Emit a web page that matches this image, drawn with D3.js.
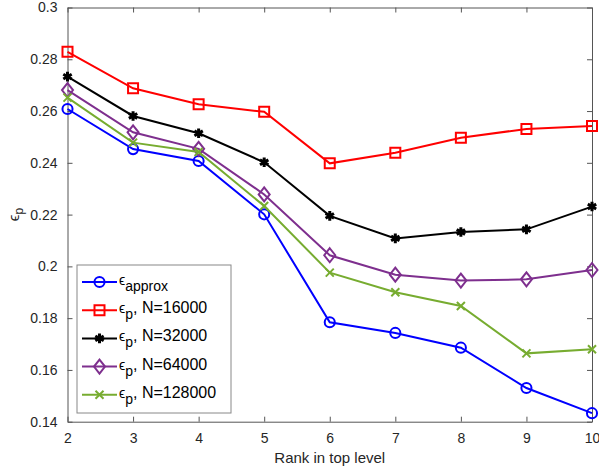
<!DOCTYPE html>
<html>
<head>
<meta charset="utf-8">
<script src="https://cdn.jsdelivr.net/npm/d3@7"></script>
<style>
  body { margin: 0; background: #fff; }
  text { font-family: "Liberation Sans", Arial, Helvetica, sans-serif; fill: #262626; }
</style>
</head>
<body>
<div id="chart"></div>
<script>
// data
const ranks = [2, 3, 4, 5, 6, 7, 8, 9, 10];
const epsApprox = [0.2608, 0.2453, 0.2407, 0.2201, 0.1784, 0.1743, 0.1686, 0.1530, 0.1433];
const epsN16000 = [0.2829, 0.2688, 0.2626, 0.2597, 0.2398, 0.2439, 0.2497, 0.2531, 0.2542];
const epsN32000 = [0.2733, 0.2581, 0.2514, 0.2402, 0.2195, 0.2108, 0.2133, 0.2143, 0.2231];
const epsN64000 = [0.2681, 0.2518, 0.2454, 0.2278, 0.2043, 0.1968, 0.1945, 0.1950, 0.1986];
const epsN128000 = [0.2652, 0.2478, 0.2442, 0.2233, 0.1976, 0.1900, 0.1847, 0.1664, 0.1680];
const seriesSubs = ['approx', 'p', 'p', 'p', 'p'];
const seriesSuffix = ['', ', N=16000', ', N=32000', ', N=64000', ', N=128000'];
const xTicks = [2, 3, 4, 5, 6, 7, 8, 9, 10];
const yTicks = [0.14, 0.16, 0.18, 0.2, 0.22, 0.24, 0.26, 0.28, 0.3];

const W = 599, H = 472;
const margin = {left: 67.5, right: 7, top: 7.5, bottom: 50.3};

const series = [
  {vals: epsApprox, color: '#0000ff', marker: 'circle'},
  {vals: epsN16000, color: '#ff0000', marker: 'square'},
  {vals: epsN32000, color: '#000000', marker: 'asterisk'},
  {vals: epsN64000, color: '#7e2f8e', marker: 'diamond'},
  {vals: epsN128000, color: '#77ac30', marker: 'x'}
];

const svg = d3.select('#chart').append('svg')
  .attr('width', W).attr('height', H);

const x = d3.scaleLinear().domain([2, 10]).range([margin.left, W - margin.right]);
const y = d3.scaleLinear().domain([0.14, 0.3]).range([H - margin.bottom, margin.top]);

const fmt = d => String(+d.toFixed(2));
const axisColor = '#555';

function styleAxis(g) {
  g.select('.domain').attr('stroke', axisColor).attr('stroke-width', 1);
  g.selectAll('.tick line').attr('stroke', axisColor);
  g.selectAll('.tick text').style('font-size', '14px').attr('fill', '#262626');
}

// bottom / left with labels, top / right ticks only (box on)
svg.append('g')
  .attr('transform', `translate(0,${H - margin.bottom})`)
  .call(d3.axisBottom(x).tickValues(xTicks).tickSize(-5).tickSizeOuter(0).tickPadding(11).tickFormat(d3.format('d')))
  .call(styleAxis);
svg.append('g')
  .attr('transform', `translate(${margin.left},0)`)
  .call(d3.axisLeft(y).tickValues(yTicks).tickSize(-5).tickSizeOuter(0).tickPadding(10).tickFormat(fmt))
  .call(styleAxis);
svg.append('g')
  .attr('transform', `translate(0,${margin.top})`)
  .call(d3.axisTop(x).tickValues(xTicks).tickSize(-5).tickSizeOuter(0).tickFormat(''))
  .call(styleAxis);
svg.append('g')
  .attr('transform', `translate(${W - margin.right},0)`)
  .call(d3.axisRight(y).tickValues(yTicks).tickSize(-5).tickSizeOuter(0).tickFormat(''))
  .call(styleAxis);

// axis labels
svg.append('text')
  .attr('x', (margin.left + W - margin.right) / 2)
  .attr('y', 463)
  .attr('text-anchor', 'middle')
  .style('font-size', '15px')
  .text('Rank in top level');

const yl = svg.append('text')
  .attr('transform', `translate(19,${(margin.top + H - margin.bottom) / 2}) rotate(-90)`)
  .attr('text-anchor', 'middle')
  .style('font-size', '15px');
yl.append('tspan').text('\u03f5');
yl.append('tspan').attr('dy', 4).style('font-size', '12px').text('p');

function markerPath(type) {
  switch (type) {
    case 'circle': return d3.symbol(d3.symbolCircle, 80)();
    case 'square': return 'M-5,-5H5V5H-5Z';
    case 'diamond': return 'M0,-7L5.5,0L0,7L-5.5,0Z';
    case 'x': return 'M-4,-4L4,4M-4,4L4,-4';
    case 'asterisk': return 'M0,-4.8V4.8M-4.2,-2.4L4.2,2.4M-4.2,2.4L4.2,-2.4';
  }
}

const line = d3.line().x((d, i) => x(ranks[i])).y(d => y(d));

series.forEach(s => {
  const g = svg.append('g');
  g.append('path')
    .datum(s.vals)
    .attr('d', line)
    .attr('fill', 'none')
    .attr('stroke', s.color)
    .attr('stroke-width', 2);
  g.selectAll('path.mk')
    .data(s.vals)
    .join('path')
    .attr('class', 'mk')
    .attr('transform', (d, i) => `translate(${x(ranks[i])},${y(d)})`)
    .attr('d', markerPath(s.marker))
    .attr('fill', s.marker === 'asterisk' ? s.color : 'none')
    .attr('stroke', s.color)
    .attr('stroke-width', s.marker === 'asterisk' ? 3 : 2);
});

// legend
const lg = svg.append('g').attr('transform', 'translate(77,265)');
lg.append('rect')
  .attr('width', 154).attr('height', 148)
  .attr('fill', '#fff').attr('stroke', '#888').attr('stroke-width', 1);

series.forEach((s, i) => {
  const row = lg.append('g').attr('transform', `translate(0,${17 + i * 28.2})`);
  row.append('line')
    .attr('x1', 5).attr('x2', 40)
    .attr('stroke', s.color).attr('stroke-width', 2);
  row.append('path')
    .attr('transform', 'translate(22.5,0)')
    .attr('d', markerPath(s.marker))
    .attr('fill', s.marker === 'asterisk' ? s.color : 'none')
    .attr('stroke', s.color)
    .attr('stroke-width', s.marker === 'asterisk' ? 3 : 2);
  const t = row.append('text')
    .attr('x', 42).attr('y', 3)
    .style('font-size', '16px')
    .attr('fill', '#000');
  t.append('tspan').attr('fill', '#000').style('font-size', '14px').text('\u03f5');
  t.append('tspan').attr('dy', 6).attr('fill', '#000').style('font-size', '14px').text(seriesSubs[i]);
  t.append('tspan').attr('dy', -6).attr('fill', '#000').text(seriesSuffix[i]);
});
</script>
</body>
</html>
